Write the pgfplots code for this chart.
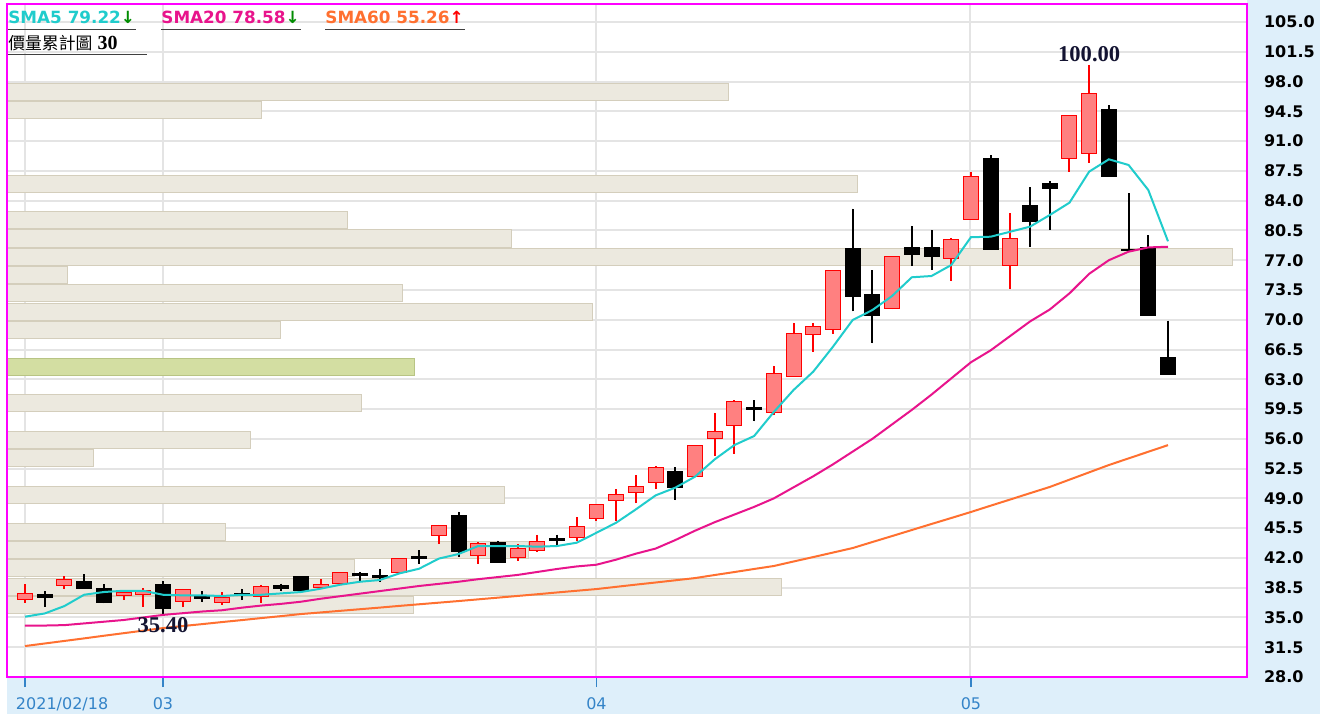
\documentclass[border=0pt]{standalone}
\usepackage{fontspec}
\setmainfont{DejaVu Sans}
\newfontfamily\cjk{Noto Sans CJK TC}
\newfontfamily\serb{Liberation Serif}
\usepackage{pgfplots}
\usepgfplotslibrary{statistics}
\pgfplotsset{compat=1.18}
\definecolor{bgblue}{RGB}{222,239,250}
\definecolor{framec}{RGB}{255,0,255}
\definecolor{gridc}{RGB}{228,228,228}
\definecolor{volf}{RGB}{236,233,223}
\definecolor{vold}{RGB}{212,206,188}
\definecolor{volg}{RGB}{211,222,162}
\definecolor{volgd}{RGB}{184,196,132}
\definecolor{upfill}{RGB}{255,128,128}
\definecolor{upline}{RGB}{255,0,0}
\definecolor{cfive}{RGB}{32,204,204}
\definecolor{ctwenty}{RGB}{232,20,140}
\definecolor{csixty}{RGB}{255,112,48}
\definecolor{tickblue}{RGB}{52,132,200}
\definecolor{labelc}{RGB}{20,20,50}
\definecolor{agreen}{RGB}{0,140,0}
\pgfplotsset{
  upc/.style={draw=upline, fill=upfill, line width=0.5pt, boxplot/draw direction=y, boxplot/box extend=0.76, boxplot/whisker extend=0, boxplot/every whisker/.style={line width=1pt}},
  dnc/.style={draw=black, fill=black, line width=0.5pt, boxplot/draw direction=y, boxplot/box extend=0.76, boxplot/whisker extend=0, boxplot/every whisker/.style={line width=1pt}},
}
% up candle: position, low, open, close, high
\newcommand\U[5]{\addplot[upc, boxplot prepared={draw position=#1, lower whisker=#2, lower quartile=#3, median=#3, upper quartile=#4, upper whisker=#5}] coordinates {};}
% down candle: position, low, close, open, high
\newcommand\D[5]{\addplot[dnc, boxplot prepared={draw position=#1, lower whisker=#2, lower quartile=#3, median=#3, upper quartile=#4, upper whisker=#5}] coordinates {};}
\begin{document}
\begin{tikzpicture}
\useasboundingbox (0,0) rectangle (660pt,357pt);
\fill[white] (0,0) rectangle (660pt,357pt);
\fill[bgblue] (3.5pt,0) rectangle (660pt,18.5pt);
\fill[bgblue] (623.5pt,0) rectangle (660pt,357pt);
% volume profile and grid
\begin{axis}[at={(3.5pt,18.5pt)}, anchor=south west, scale only axis,
  width=620pt, height=336.5pt, xmin=0, xmax=1240, ymin=28, ymax=107.116,
  axis line style={draw=none}, xtick={18,156,589,963}, ytick={28,31.5,...,105.1},
  xticklabels={}, yticklabels={}, major tick length=0pt,
  grid=major, major grid style={draw=gridc, line width=1pt}]
\addplot[xbar, bar shift=0pt, bar width=2.0, fill=volf, draw=vold, line width=0.5pt] coordinates {
(406,36.48) (774,38.63) (347,40.78) (521,42.94) (218,45.09) (497,49.40)
(86,53.70) (243,55.86) (354,60.16) (273,68.78) (585,70.93) (395,73.09)
(60,75.24) (1225,77.39) (504,79.55) (340,81.70) (850,86.00) (254,94.62) (721,96.77)};
\addplot[xbar, bar shift=0pt, bar width=2.0, fill=volg, draw=volgd, line width=0.5pt] coordinates {(407,64.47)};
\end{axis}
% price axis
\begin{axis}[at={(3.5pt,18.5pt)}, anchor=south west, scale only axis,
  width=620pt, height=336.5pt, xmin=-0.913, xmax=62.01, ymin=28, ymax=107.116,
  axis line style={draw=framec, line width=1pt},
  xtick={0,7,29,48},
  xticklabels={\makebox[0pt][l]{\hspace{-4.5pt}2021/02/18},03,04,05},
  xtick pos=lower, tick align=outside, major tick length=5pt,
  xtick style={draw=tickblue, line width=0.6pt},
  xticklabel style={font=\fontsize{8}{9}\selectfont, text=tickblue, yshift=-2pt},
  ytick={28,31.5,...,105.1}, ytick pos=right, yticklabel pos=right,
  ytick style={draw=none},
  yticklabel style={font=\bfseries\fontsize{8}{9}\selectfont, /pgf/number format/fixed, /pgf/number format/fixed zerofill, /pgf/number format/precision=1},
  /pgf/number format/assume math mode=true]
\U{0}{36.73}{37.13}{37.83}{38.93}
\D{1}{36.26}{37.40}{37.65}{38.14}
\U{2}{38.31}{38.81}{39.48}{39.87}
\D{3}{38.38}{38.38}{39.24}{40.10}
\D{4}{36.66}{36.81}{38.38}{38.93}
\U{5}{37.05}{37.62}{37.91}{37.95}
\U{6}{36.26}{37.67}{38.22}{38.46}
\D{7}{35.40}{36.06}{38.93}{39.32}
\U{8}{36.18}{36.89}{38.31}{38.35}
\D{9}{36.81}{37.25}{37.45}{38.07}
\U{10}{36.42}{36.73}{37.36}{37.99}
\D{11}{37.05}{37.65}{37.85}{38.38}
\U{12}{36.66}{37.52}{38.61}{38.85}
\D{13}{38.07}{38.38}{38.78}{38.99}
\D{14}{38.14}{38.14}{39.79}{39.87}
\U{15}{38.31}{38.54}{38.93}{39.48}
\U{16}{38.90}{38.99}{40.26}{40.35}
\D{17}{39.30}{39.90}{40.20}{40.30}
\D{18}{39.20}{39.75}{39.95}{40.73}
\U{19}{40.10}{40.34}{41.92}{41.95}
\D{20}{41.28}{41.98}{42.18}{42.93}
\U{21}{43.63}{44.65}{45.86}{45.90}
\D{22}{42.15}{42.77}{46.93}{47.45}
\U{23}{41.28}{42.30}{43.71}{43.87}
\D{24}{41.52}{41.52}{43.79}{44.02}
\U{25}{41.67}{42.08}{43.08}{43.63}
\U{26}{42.69}{42.93}{43.95}{44.73}
\D{27}{43.40}{44.08}{44.28}{44.73}
\U{28}{43.95}{44.41}{45.75}{46.77}
\U{29}{46.38}{46.61}{48.25}{48.35}
\U{30}{46.38}{48.72}{49.43}{50.06}
\U{31}{48.41}{49.66}{50.37}{51.70}
\U{32}{50.06}{50.84}{52.65}{52.80}
\D{33}{48.80}{50.30}{52.18}{52.65}
\U{34}{51.55}{51.55}{55.23}{55.23}
\U{35}{53.98}{56.01}{56.88}{59.07}
\U{36}{54.22}{57.58}{60.40}{60.56}
\D{37}{58.05}{59.44}{59.64}{60.56}
\U{38}{58.76}{59.15}{63.70}{64.60}
\U{39}{63.38}{63.38}{68.40}{69.65}
\U{40}{66.20}{68.32}{69.26}{69.65}
\U{41}{68.32}{68.87}{75.84}{75.84}
\D{42}{70.99}{72.71}{78.35}{83.05}
\D{43}{67.22}{70.44}{73.02}{75.84}
\U{44}{71.23}{71.37}{77.49}{77.49}
\D{45}{76.31}{77.72}{78.51}{81.02}
\D{46}{75.84}{77.41}{78.51}{80.55}
\U{47}{74.51}{77.25}{79.45}{79.61}
\U{48}{81.80}{81.80}{86.82}{87.37}
\D{49}{78.20}{78.20}{88.93}{89.33}
\U{50}{73.58}{76.40}{79.53}{82.51}
\D{51}{78.59}{81.49}{83.37}{85.57}
\D{52}{80.55}{85.48}{85.96}{86.27}
\U{53}{87.37}{88.93}{93.95}{93.95}
\U{54}{88.46}{89.56}{96.54}{100.00}
\D{55}{86.82}{86.82}{94.74}{95.21}
\D{56}{78.20}{78.20}{78.25}{84.86}
\D{57}{70.44}{70.44}{78.51}{79.92}
\D{58}{63.55}{63.55}{65.58}{69.89}
% SMA60
\addplot[csixty, line width=1pt] coordinates {
(0,31.64) (1,31.94) (2,32.24) (3,32.54) (4,32.85) (5,33.15) (6,33.45) (7,33.75)
(8,33.99) (9,34.22) (10,34.46) (11,34.69) (12,34.93) (13,35.16) (14,35.40) (15,35.59)
(16,35.78) (17,35.97) (18,36.16) (19,36.36) (20,36.55) (21,36.74) (22,36.93) (23,37.13)
(24,37.33) (25,37.53) (26,37.73) (27,37.94) (28,38.14) (29,38.34) (30,38.60) (31,38.86)
(32,39.11) (33,39.37) (34,39.63) (35,39.99) (36,40.34) (37,40.70) (38,41.05) (39,41.58)
(40,42.10) (41,42.63) (42,43.16) (43,43.87) (44,44.57) (45,45.28) (46,45.99) (47,46.69)
(48,47.40) (49,48.14) (50,48.87) (51,49.61) (52,50.34) (53,51.20) (54,52.06) (55,52.92)
(56,53.70) (57,54.48) (58,55.26)};
% SMA20
\addplot[ctwenty, line width=1pt] coordinates {
(0,34.03) (1,34.05) (2,34.10) (3,34.30) (4,34.50) (5,34.70) (6,35.00) (7,35.30)
(8,35.50) (9,35.70) (10,35.85) (11,36.15) (12,36.40) (13,36.60) (14,36.85) (15,37.20)
(16,37.50) (17,37.80) (18,38.10) (19,38.40) (20,38.70) (21,38.95) (22,39.20) (23,39.50)
(24,39.75) (25,40.00) (26,40.35) (27,40.70) (28,41.00) (29,41.20) (30,41.80) (31,42.50)
(32,43.10) (33,44.10) (34,45.20) (35,46.20) (36,47.10) (37,48.00) (38,49.00) (39,50.30)
(40,51.60) (41,53.00) (42,54.50) (43,56.00) (44,57.70) (45,59.40) (46,61.20) (47,63.10)
(48,65.00) (49,66.40) (50,68.10) (51,69.80) (52,71.20) (53,73.10) (54,75.40) (55,77.00)
(56,78.00) (57,78.50) (58,78.58)};
% SMA5
\addplot[cfive, line width=1pt] coordinates {
(0,35.09) (1,35.47) (2,36.34) (3,37.67) (4,37.99) (5,38.14) (6,38.14) (7,37.67)
(8,37.60) (9,37.60) (10,37.52) (11,37.67) (12,37.67) (13,37.83) (14,37.99) (15,38.38)
(16,38.85) (17,39.20) (18,39.40) (19,40.18) (20,40.73) (21,41.92) (22,42.46) (23,43.40)
(24,43.40) (25,43.40) (26,43.32) (27,43.40) (28,43.79) (29,44.96) (30,46.14) (31,47.71)
(32,49.35) (33,50.26) (34,51.55) (35,53.59) (36,55.27) (37,56.33) (38,59.16) (39,61.74)
(40,63.90) (41,66.83) (42,69.97) (43,71.14) (44,72.79) (45,74.99) (46,75.14) (47,76.43)
(48,79.70) (49,79.76) (50,80.35) (51,80.94) (52,82.31) (53,83.76) (54,87.41) (55,88.86)
(56,88.19) (57,85.25) (58,79.22)};
\node[anchor=south, inner sep=1pt, text=labelc, font=\serb\bfseries\fontsize{11.3}{12}\selectfont] at (axis cs:54,100) {100.00};
\node[anchor=north, inner sep=1.5pt, text=labelc, font=\serb\bfseries\fontsize{11.3}{12}\selectfont] at (axis cs:7,35.4) {35.40};
\end{axis}
% header legend
\node[anchor=base west, inner sep=0pt, text=cfive, font=\bfseries\fontsize{8.4}{10}\selectfont] at (4pt,345pt) {SMA5 79.22\textcolor{agreen}{↓}};
\node[anchor=base west, inner sep=0pt, text=ctwenty, font=\bfseries\fontsize{8.4}{10}\selectfont] at (80.5pt,345pt) {SMA20 78.58\textcolor{agreen}{↓}};
\node[anchor=base west, inner sep=0pt, text=csixty, font=\bfseries\fontsize{8.4}{10}\selectfont] at (162.5pt,345pt) {SMA60 55.26\textcolor{red}{↑}};
\draw[black!75, line width=0.5pt] (4pt,342.3pt) -- (68pt,342.3pt);
\draw[black!75, line width=0.5pt] (80.5pt,342.3pt) -- (150.5pt,342.3pt);
\draw[black!75, line width=0.5pt] (162.5pt,342.3pt) -- (232.5pt,342.3pt);
\node[anchor=base west, inner sep=0pt, font=\fontsize{8.4}{10}\selectfont] at (4pt,332pt) {{\cjk 價量累計圖} {\serb\bfseries\fontsize{10}{10}\selectfont 30}};
\draw[black!75, line width=0.5pt] (4pt,329.7pt) -- (73.5pt,329.7pt);
\end{tikzpicture}
\end{document}
